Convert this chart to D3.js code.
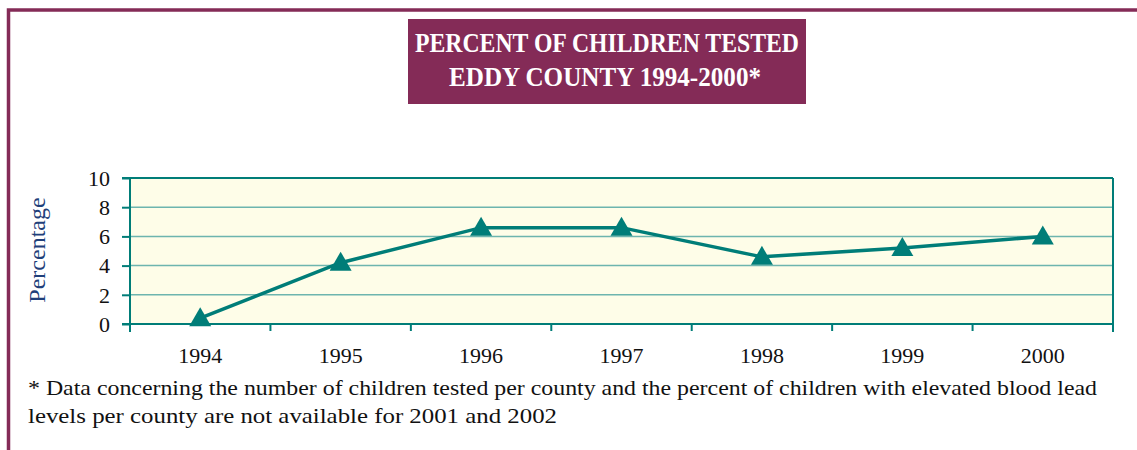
<!DOCTYPE html>
<html><head><meta charset="utf-8">
<script src="https://cdn.jsdelivr.net/npm/d3@7"></script>
<style>body{margin:0;background:#fff}svg{display:block}text{font-family:'Liberation Serif','Times New Roman',serif}</style>
</head><body>
<svg id="c" width="1137" height="450"></svg>
<script>
const years = ["1994","1995","1996","1997","1998","1999","2000"];
const percent = [0.4, 4.2, 6.6, 6.6, 4.6, 5.2, 6.0];
const yTicks = [0, 2, 4, 6, 8, 10];
const titleLines = ["PERCENT OF CHILDREN TESTED", "EDDY COUNTY 1994-2000*"];
const noteLines = ["* Data concerning the number of children tested per county and the percent of children with elevated blood lead",
                   "levels per county are not available for 2001 and 2002"];

(function(){
const svg = d3.select("#c");
const serif = "'Liberation Serif','Times New Roman',serif";
const maroon = "#842B57", teal = "#007D78", grid = "#6DB5AE";

svg.append("path").attr("d","M8.5,450 L8.5,10 L1137,10").attr("fill","none").attr("stroke",maroon).attr("stroke-width",3.5);

svg.append("rect").attr("x",408).attr("y",19).attr("width",398).attr("height",85).attr("fill",maroon);
const tw = [384, 312];
svg.selectAll("text.title").data(titleLines).join("text").attr("class","title")
  .attr("x",(d,i)=>i===0?415:449).attr("y",(d,i)=>52+i*33.5)
  .attr("textLength",(d,i)=>tw[i]).attr("lengthAdjust","spacingAndGlyphs")
  .style("font-family",serif).style("font-weight","bold").style("font-size","27px").attr("fill","#fff").text(d=>d);

const pL=130, pR=1113, pT=178, pB=324;
const x = d3.scaleBand().domain(years).range([pL,pR]);
const y = d3.scaleLinear().domain([0,10]).range([pB,pT]);

svg.append("rect").attr("x",pL).attr("y",pT).attr("width",pR-pL).attr("height",pB-pT).attr("fill","#FEFDE8");

svg.append("g").selectAll("line").data(yTicks.filter(t=>t>0&&t<10)).join("line")
  .attr("x1",pL).attr("x2",pR).attr("y1",d=>y(d)).attr("y2",d=>y(d))
  .attr("stroke",grid).attr("stroke-width",1.5);

const ya = svg.append("g").attr("transform",`translate(${pL},0)`)
  .call(d3.axisLeft(y).tickValues(yTicks).tickSize(8).tickPadding(12).tickFormat(d3.format("d")));
ya.select(".domain").remove();
ya.selectAll("line").attr("stroke",teal).attr("stroke-width",2);
ya.selectAll("text").style("font-family",serif).style("font-size","22px").attr("fill","#111").attr("dy","0.33em");

svg.append("line").attr("x1",pL-8).attr("x2",pR).attr("y1",pT).attr("y2",pT).attr("stroke",teal).attr("stroke-width",2);
svg.append("line").attr("x1",pL).attr("x2",pL).attr("y1",pT).attr("y2",pB+8).attr("stroke",teal).attr("stroke-width",2);
svg.append("line").attr("x1",pR).attr("x2",pR).attr("y1",pT).attr("y2",pB+8).attr("stroke",teal).attr("stroke-width",2);
svg.append("line").attr("x1",pL-8).attr("x2",pR).attr("y1",pB).attr("y2",pB).attr("stroke",teal).attr("stroke-width",2);

const bounds = years.map(d=>x(d)).concat([pR]);
svg.append("g").selectAll("line").data(bounds).join("line")
  .attr("x1",d=>d).attr("x2",d=>d).attr("y1",pB).attr("y2",pB+7)
  .attr("stroke",teal).attr("stroke-width",2);
svg.append("g").selectAll("text").data(years).join("text")
  .attr("x",d=>x(d)+x.bandwidth()/2).attr("y",363).attr("text-anchor","middle")
  .style("font-family",serif).style("font-size","22px").attr("fill","#111").text(d=>d);

svg.append("text").attr("transform","translate(45,250) rotate(-90)").attr("text-anchor","middle")
  .style("font-family",serif).style("font-size","24px").attr("fill","#1F3F7A").text("Percentage");

const cx = (d,i)=>x(years[i])+x.bandwidth()/2;
svg.append("path").datum(percent)
  .attr("d", d3.line().x(cx).y(d=>y(d)))
  .attr("fill","none").attr("stroke",teal).attr("stroke-width",3.5);
svg.append("g").selectAll("path").data(percent).join("path")
  .attr("transform",(d,i)=>`translate(${cx(d,i)},${y(d)})`)
  .attr("d","M0,-11 L11,8 L-11,8 Z").attr("fill",teal);

const nw = [1069, 529];
svg.selectAll("text.note").data(noteLines).join("text").attr("class","note")
  .attr("x",28).attr("y",(d,i)=>395+i*28)
  .attr("textLength",(d,i)=>nw[i]).attr("lengthAdjust","spacingAndGlyphs")
  .style("font-family",serif).style("font-size","21px").attr("fill","#111").text(d=>d);
})();
</script>
</body></html>
